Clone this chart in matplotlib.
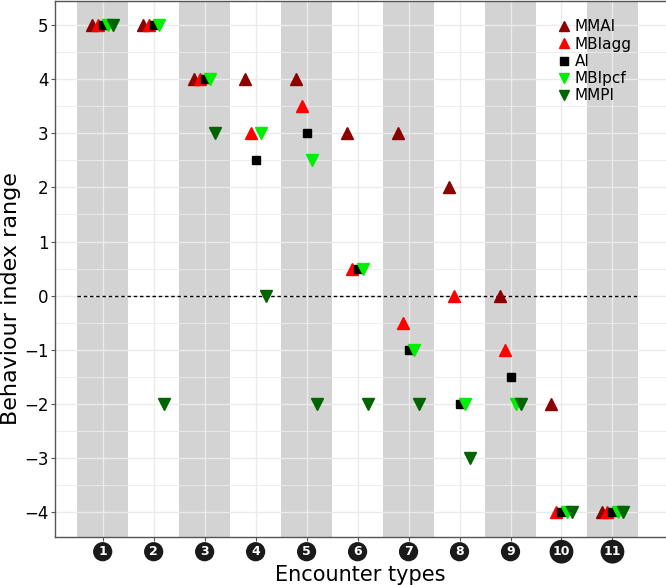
import numpy as np
import matplotlib
matplotlib.use("Agg")
from matplotlib import pyplot as plt
from matplotlib.transforms import blended_transform_factory

# encounter types 1..11
encounters = list(range(1, 12))

series_names = ["MMAI", "MBIagg", "AI", "MBIpcf", "MMPI"]
mmai   = [5, 5, 4, 4, 4, 3, 3, 2, 0, -2, -4]
mbiagg = [5, 5, 4, 3, 3.5, 0.5, -0.5, 0, -1, -4, -4]
ai     = [5, 5, 4, 2.5, 3, 0.5, -1, -2, -1.5, -4, -4]
mbipcf = [5, 5, 4, 3, 2.5, 0.5, -1, -2, -2, -4, -4]
mmpi   = [5, -2, 3, 0, -2, -2, -2, -3, -2, -4, -4]

series_vals = [mmai, mbiagg, ai, mbipcf, mmpi]
colors = ["#8B0000", "#FF0000", "#000000", "#00EE00", "#006400"]
markers = ["^", "^", "s", "v", "v"]
sizes = [8.5, 8.5, 6, 8.5, 8.5]
offsets = [-0.2, -0.1, 0.0, 0.1, 0.2]

fig = plt.figure(figsize=(6.66, 5.85), dpi=100)
ax = fig.add_axes([0.083, 0.0826, 0.917, 0.9164])

# grey bands on odd encounter types
for e in encounters:
    if e % 2 == 1:
        ax.axvspan(e - 0.5, e + 0.5, color="#d3d3d3", lw=0, zorder=0.2)

ax.set_axisbelow(True)
ax.grid(True, which="major", color="#ebebeb", lw=1.0)
ax.set_yticks(np.arange(-4.5, 5.5, 1.0), minor=True)
ax.grid(True, which="minor", axis="y", color="#ebebeb", lw=0.6)

ax.hlines(0, 0.5, 11.5, colors="black", linestyles=(0, (2.5, 2)), lw=1.0, zorder=2)

x = np.array(encounters, dtype=float)
for name, vals, c, m, s, off in zip(series_names, series_vals, colors, markers, sizes, offsets):
    ax.plot(x + off, vals, ls="none", marker=m, ms=s, color=c, mec=c, label=name, zorder=3)

ax.set_xlim(0.07, 12.05)
ax.set_ylim(-4.45, 5.45)
ax.set_yticks(range(-4, 6))
ax.set_yticklabels([str(v).replace("-", "\u2212") for v in range(-4, 6)], fontsize=12)
ax.set_xticks(encounters)
ax.set_xticklabels([""] * len(encounters))
ax.tick_params(axis="both", which="major", length=3, color="#555555")
ax.tick_params(axis="y", which="major", pad=2)
ax.tick_params(axis="y", which="minor", length=0)

# circled tick labels
trans = blended_transform_factory(ax.transData, ax.transAxes)
for e in encounters:
    ax.text(e, -0.028, str(e), transform=trans, ha="center", va="center",
            color="white", fontsize=9, fontweight="bold",
            bbox=dict(boxstyle="circle,pad=0.25", fc="#1a1a1a", ec="none"))

ax.spines["right"].set_visible(False)
for sp in ["left", "bottom", "top"]:
    ax.spines[sp].set_color("#555555")
    ax.spines[sp].set_linewidth(1.0)

ax.set_xlabel("Encounter types", fontsize=15, labelpad=14)
fig.text(0.002, 0.49, "Behaviour index range", rotation=90, ha="left", va="center",
         fontsize=16)

ax.legend(loc="upper left", bbox_to_anchor=(0.80, 0.985), frameon=False,
          fontsize=11, handletextpad=0.1, labelspacing=0.15, borderpad=0.2,
          handlelength=1.2, markerscale=0.9)

fig.savefig("out.png", dpi=100)
